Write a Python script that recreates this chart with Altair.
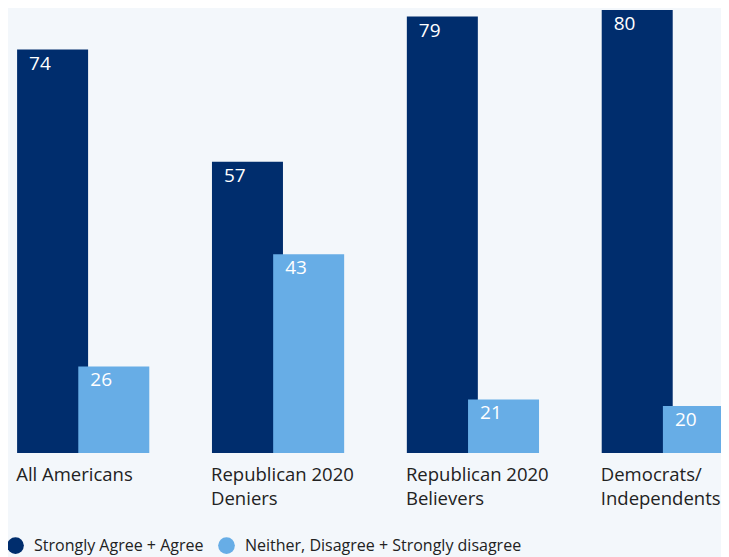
import altair as alt
import pandas as pd

categories = ["All Americans", "Republican 2020\nDeniers", "Republican 2020\nBelievers", "Democrats/\nIndependents"]
series = ["Strongly Agree + Agree", "Neither, Disagree + Strongly disagree"]
agree = [74, 57, 79, 80]
disagree = [26, 43, 21, 20]
colors = ["#002d6d", "#67ade6"]

rows = []
for c, v in zip(categories, agree):
    rows.append({"cat": c, "series": series[0], "value": v})
for c, v in zip(categories, disagree):
    rows.append({"cat": c, "series": series[1], "value": v})
df = pd.DataFrame(rows)

LO, HI = 12.88, 80.3
FONT = "Open Sans"

x = alt.X("cat:N", sort=categories, title=None,
          scale=alt.Scale(range=[14, 721], paddingInner=0.372, paddingOuter=0, align=0),
          axis=alt.Axis(domain=False, ticks=False, labelAngle=0, labelAlign="left",
                        labelOffset=-67, labelBaseline="top", labelPadding=12,
                        labelFont=FONT, labelFontSize=18.5, labelColor="#222222",
                        labelLineHeight=24, labelLimit=300,
                        labelExpr="split(datum.label, '\\n')"))
xo = alt.XOffset("series:N", sort=series, scale=alt.Scale(paddingInner=0, paddingOuter=0))
y = alt.Y("value:Q", scale=alt.Scale(domain=[LO, HI], zero=False, nice=False), axis=None)

bars = alt.Chart(df).mark_bar(width=71, clip=True).encode(
    x=x, xOffset=xo, y=y, y2=alt.datum(LO),
    color=alt.Color("series:N", sort=series, title=None,
                    scale=alt.Scale(domain=series, range=colors),
                    legend=alt.Legend(orient="none", legendX=-1, legendY=529, direction="horizontal",
                                      symbolType="circle", symbolSize=280, symbolStrokeWidth=0,
                                      labelFont=FONT, labelFontSize=16, labelColor="#222222",
                                      labelOffset=10, columnPadding=14, labelLimit=400, padding=0)),
)

labels = alt.Chart(df).mark_text(align="left", baseline="alphabetic", dx=-23.5, dy=20,
                                 font=FONT, fontSize=19, color="white").encode(
    x=x, xOffset=xo, y=y, text="value:Q"
)

chart = (bars + labels).properties(
    width=713, height=445,
    autosize=alt.AutoSizeParams(type="none"),
    padding={"left": 0, "top": 0, "right": 0, "bottom": 104},
    background="#f3f7fb",
).configure_view(stroke=None)
chart.save("out.html", embed_options={"renderer": "svg", "actions": False})
